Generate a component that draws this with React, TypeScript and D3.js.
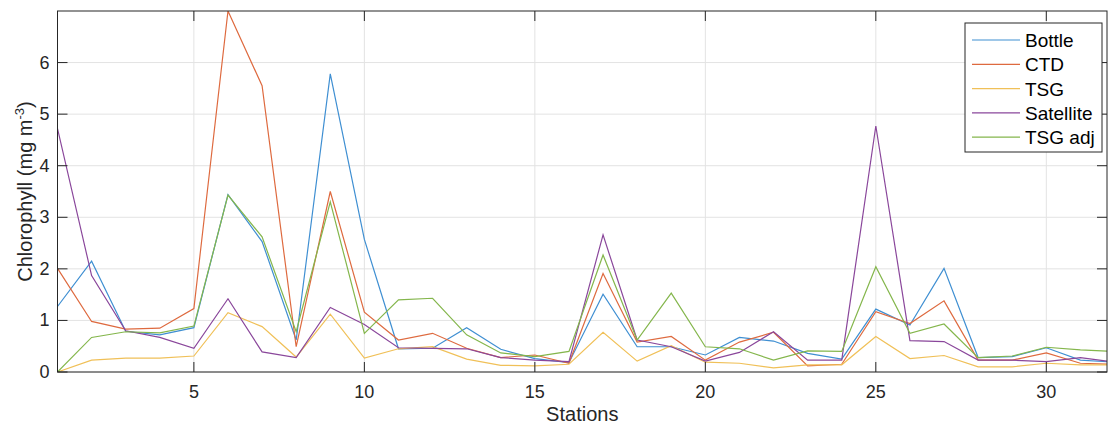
import React from "react";
import * as d3 from "d3";

const stations = [1,2,3,4,5,6,7,8,9,10,11,12,13,14,15,16,17,18,19,20,21,22,23,24,25,26,27,28,29,30,31,32];
const bottle = [1.27,2.15,0.79,0.72,0.86,3.44,2.53,0.62,5.78,2.57,0.45,0.46,0.86,0.44,0.26,0.18,1.51,0.49,0.49,0.33,0.67,0.60,0.36,0.25,1.22,0.91,2.01,0.28,0.30,0.47,0.23,0.19];
const ctd = [2.01,0.98,0.83,0.85,1.23,7.0,5.55,0.49,3.50,1.16,0.62,0.75,0.46,0.28,0.33,0.17,1.91,0.58,0.69,0.23,0.58,0.77,0.12,0.15,1.17,0.94,1.38,0.23,0.23,0.37,0.17,0.15];
const tsg = [0.0,0.23,0.27,0.27,0.31,1.15,0.88,0.29,1.12,0.27,0.45,0.49,0.25,0.13,0.12,0.15,0.77,0.21,0.51,0.19,0.17,0.08,0.14,0.14,0.69,0.26,0.32,0.10,0.10,0.17,0.14,0.14];
const satellite = [4.72,1.87,0.80,0.67,0.46,1.42,0.39,0.28,1.25,0.92,0.47,0.46,0.45,0.28,0.23,0.20,2.66,0.62,0.49,0.21,0.38,0.78,0.23,0.23,4.77,0.61,0.59,0.23,0.23,0.20,0.28,0.19];
const tsgAdj = [0.0,0.67,0.78,0.76,0.89,3.43,2.62,0.78,3.30,0.75,1.40,1.43,0.72,0.37,0.30,0.40,2.27,0.62,1.53,0.49,0.45,0.23,0.41,0.40,2.04,0.75,0.93,0.28,0.31,0.48,0.43,0.40];

const seriesNames = ["Bottle", "CTD", "TSG", "Satellite", "TSG adj"];
const seriesValues = [bottle, ctd, tsg, satellite, tsgAdj];
const seriesColors = ["#3f8fd2", "#de6a3f", "#f0c058", "#8a479b", "#84b64c"];
const xTicks = [5, 10, 15, 20, 25, 30];
const yTicks = [0, 1, 2, 3, 4, 5, 6];

const W = 1108, H = 430;
const L = 57.5, R = 1107, T = 11, B = 372;
const FONT = "'Liberation Sans', Arial, Helvetica, sans-serif";

export default function App() {
  const x = d3.scaleLinear().domain([1, 31.78]).range([L, R]);
  const y = d3.scaleLinear().domain([0, 7]).range([B, T]);
  const line = d3.line<number>().x((_, i) => x(stations[i])).y((d) => y(d));
  const axisColor = "#262626";
  const tickLen = 10;
  const legX = 965, legY = 23, legW = 137, legH = 129;
  const legRow = 24.3;

  return (
    <svg width={W} height={H} style={{ position: "absolute", left: 0, top: 0, background: "#fff" }} fontFamily={FONT}>
      <defs>
        <clipPath id="plotClip">
          <rect x={L} y={T} width={R - L} height={B - T} />
        </clipPath>
      </defs>
      <rect x={0} y={0} width={W} height={H} fill="#fff" />
      {xTicks.map((t) => (
        <line key={"gx" + t} x1={x(t)} x2={x(t)} y1={T} y2={B} stroke="#e3e3e3" strokeWidth={1} />
      ))}
      {yTicks.map((t) => (
        <line key={"gy" + t} x1={L} x2={R} y1={y(t)} y2={y(t)} stroke="#e3e3e3" strokeWidth={1} />
      ))}
      <g clipPath="url(#plotClip)">
        {seriesValues.map((vals, i) => (
          <path key={seriesNames[i]} d={line(vals) || ""} fill="none" stroke={seriesColors[i]} strokeWidth={1.2} strokeLinejoin="miter" />
        ))}
      </g>
      <rect x={L} y={T} width={R - L} height={B - T} fill="none" stroke={axisColor} strokeWidth={1} />
      {xTicks.map((t) => (
        <g key={"tx" + t}>
          <line x1={x(t)} x2={x(t)} y1={B} y2={B - tickLen} stroke={axisColor} strokeWidth={1} />
          <line x1={x(t)} x2={x(t)} y1={T} y2={T + tickLen} stroke={axisColor} strokeWidth={1} />
          <text x={x(t)} y={B + 26} textAnchor="middle" fontSize={18} fill={axisColor}>{t}</text>
        </g>
      ))}
      {yTicks.map((t) => (
        <g key={"ty" + t}>
          <line x1={L} x2={L + tickLen} y1={y(t)} y2={y(t)} stroke={axisColor} strokeWidth={1} />
          <line x1={R} x2={R - tickLen} y1={y(t)} y2={y(t)} stroke={axisColor} strokeWidth={1} />
          <text x={L - 8} y={y(t) + 6} textAnchor="end" fontSize={18} fill={axisColor}>{t}</text>
        </g>
      ))}
      <text x={(L + R) / 2} y={421} textAnchor="middle" fontSize={20} fill={axisColor}>Stations</text>
      <text transform={`translate(32, ${(T + B) / 2}) rotate(-90)`} textAnchor="middle" fontSize={20} fill={axisColor}>
        Chlorophyll (mg m<tspan dy={-8} fontSize={13}>-3</tspan><tspan dy={8}>)</tspan>
      </text>
      <rect x={legX} y={legY} width={legW} height={legH} fill="#fff" stroke={axisColor} strokeWidth={1} />
      {seriesNames.map((n, i) => {
        const yy = legY + 17 + i * legRow;
        return (
          <g key={"leg" + n}>
            <line x1={972} x2={1020} y1={yy} y2={yy} stroke={seriesColors[i]} strokeWidth={1.2} />
            <text x={1025} y={yy + 7} fontSize={19} fill="#000">{n}</text>
          </g>
        );
      })}
    </svg>
  );
}
